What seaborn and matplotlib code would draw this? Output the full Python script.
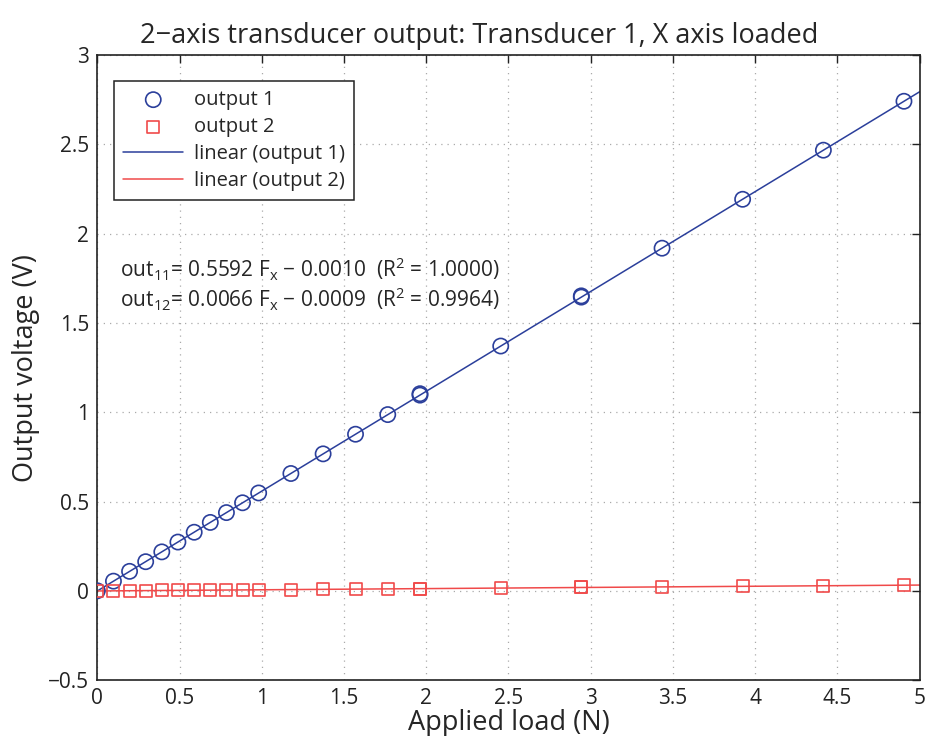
import numpy as np
import pandas as pd
import matplotlib
matplotlib.use("Agg")
import matplotlib.pyplot as plt
import seaborn as sns

load_N = [0.0, 0.098, 0.196, 0.294, 0.392, 0.490, 0.589, 0.687, 0.785, 0.883, 0.981,
          1.177, 1.373, 1.570, 1.766, 1.962, 1.962, 2.453, 2.943, 2.943, 3.434, 3.924,
          4.415, 4.905]
output1 = [0.000, 0.054, 0.109, 0.163, 0.218, 0.273, 0.328, 0.383, 0.438, 0.493, 0.548,
           0.657, 0.767, 0.877, 0.987, 1.096, 1.104, 1.371, 1.645, 1.652, 1.919, 2.193,
           2.468, 2.742]
output2 = [0.000, -0.001, 0.000, 0.001, 0.002, 0.002, 0.003, 0.004, 0.004, 0.005, 0.006,
           0.007, 0.008, 0.010, 0.011, 0.012, 0.012, 0.015, 0.019, 0.019, 0.022, 0.025,
           0.028, 0.032]
fit_x = [0.0, 5.0]
fit1 = [-0.0010, 2.7950]
fit2 = [-0.0009, 0.0321]

sns.set_theme(style="white")
plt.rcParams['font.family'] = ['Open Sans', 'DejaVu Sans']
plt.rcParams['mathtext.fontset'] = 'custom'
plt.rcParams['mathtext.rm'] = 'Open Sans'
plt.rcParams['mathtext.it'] = 'Open Sans'

blue = '#2B3F9B'
red = '#F04A4A'

fig = plt.figure(figsize=(9.27, 7.36), dpi=100)
ax = fig.add_axes([0.105, 0.076, 0.887, 0.849])

pts = pd.DataFrame({'x': load_N, 'o1': output1, 'o2': output2})
fits = pd.DataFrame({'x': fit_x, 'f1': fit1, 'f2': fit2})

sns.scatterplot(data=pts, x='x', y='o1', ax=ax, marker='o', s=120,
                facecolors='none', edgecolor=blue, linewidth=1.2, label='output 1', zorder=3)
sns.scatterplot(data=pts, x='x', y='o2', ax=ax, marker='s', s=75,
                facecolors='none', edgecolor=red, linewidth=1.2, label='output 2', zorder=3)
sns.lineplot(data=fits, x='x', y='f1', ax=ax, color=blue, linewidth=1.1, label='linear (output 1)')
sns.lineplot(data=fits, x='x', y='f2', ax=ax, color=red, linewidth=1.1, label='linear (output 2)')

ax.set_xlim(0, 5)
ax.set_ylim(-0.5, 3)
ax.set_xticks(np.arange(0, 5.01, 0.5))
ax.set_xticklabels(['0', '0.5', '1', '1.5', '2', '2.5', '3', '3.5', '4', '4.5', '5'])
ax.set_yticks(np.arange(-0.5, 3.01, 0.5))
ax.set_yticklabels(['−0.5', '0', '0.5', '1', '1.5', '2', '2.5', '3'])
ax.tick_params(direction='in', length=6, width=1, labelsize=15, top=True, right=True,
               labeltop=False, labelright=False, colors='#222222', pad=6)
ax.grid(True, linestyle=(0, (1, 4)), color='#aaaaaa', linewidth=0.9)
for sp in ax.spines.values():
    sp.set_color('#222222')
    sp.set_linewidth(1.2)

ax.set_xlabel('Applied load (N)', fontsize=19.5, labelpad=0)
ax.set_ylabel('Output voltage (V)', fontsize=19.5, labelpad=6)
ax.set_title('2−axis transducer output: Transducer 1, X axis loaded', fontsize=19.5, pad=9,
             x=0.465)

leg = ax.legend(loc='upper left', bbox_to_anchor=(0.008, 0.975), fontsize=14.5, frameon=True,
                fancybox=False, edgecolor='#222222', framealpha=1, borderpad=0.45,
                handlelength=3.0, labelspacing=0.35, handletextpad=0.5)
leg.get_frame().set_linewidth(1.1)

ax.text(0.14, 1.80, r'out$_{11}$= 0.5592 F$_{\mathrm{x}}$ − 0.0010  (R$^2$ = 1.0000)',
        fontsize=15, va='center')
ax.text(0.14, 1.63, r'out$_{12}$= 0.0066 F$_{\mathrm{x}}$ − 0.0009  (R$^2$ = 0.9964)',
        fontsize=15, va='center')

fig.savefig('out.png', dpi=100)
